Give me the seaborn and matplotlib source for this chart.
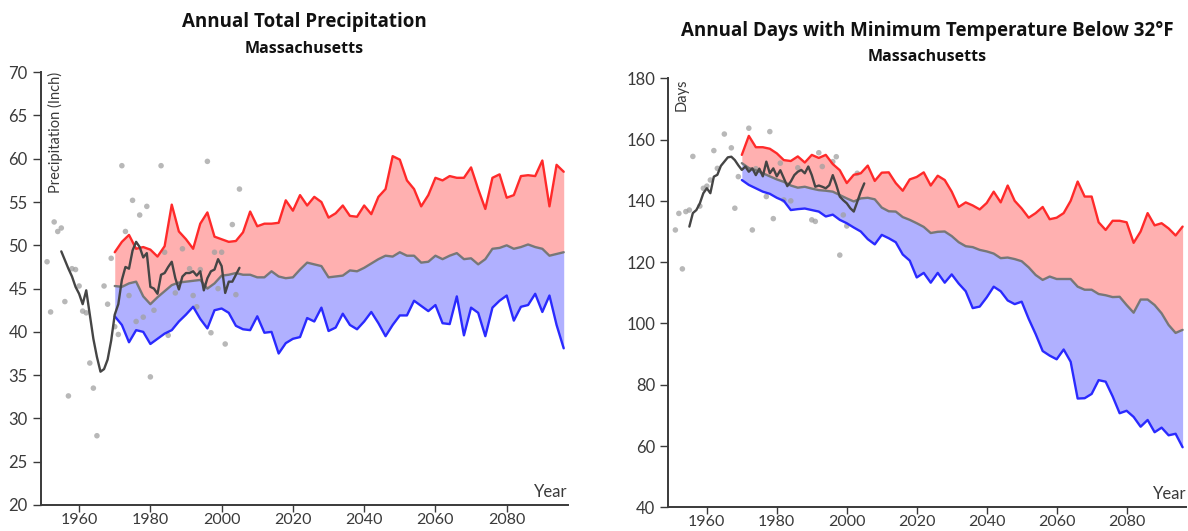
import numpy as np
import matplotlib
matplotlib.use("Agg")
import matplotlib.pyplot as plt
import seaborn as sns

# projection years (every 2nd year)
years = np.arange(1970, 2097, 2)

# ---- precipitation (inch) ----
precip_high = [49.2, 50.4, 51.2, 49.6, 49.8,
               49.5, 48.7, 49.9, 54.7, 51.6,
               50.7, 49.6, 52.5, 53.8, 51.0,
               50.7, 50.4, 50.5, 51.5, 53.9,
               52.2, 52.5, 52.5, 52.6, 55.2,
               54.0, 55.8, 54.6, 55.6, 55.0,
               53.2, 53.7, 54.6, 53.4, 53.3,
               54.6, 53.6, 55.6, 56.5, 60.3,
               59.9, 57.5, 56.5, 54.5, 55.8,
               57.8, 57.5, 58.0, 57.8, 57.8,
               59.0, 56.5, 54.2, 57.8, 58.2,
               55.5, 55.8, 58.0, 58.1, 58.0,
               59.8, 54.5, 59.3, 58.5]
precip_median = [45.3, 45.2, 45.6, 45.8, 44.1,
                 43.2, 44.0, 44.7, 45.4, 45.7,
                 45.8, 45.9, 46.0, 45.0, 45.6,
                 46.5, 46.6, 46.8, 46.6, 46.6,
                 46.3, 46.3, 47.0, 46.4, 46.2,
                 46.3, 47.2, 48.0, 47.8, 47.6,
                 46.3, 46.4, 46.5, 47.1, 47.0,
                 47.4, 47.9, 48.4, 48.8, 48.7,
                 49.2, 48.8, 48.8, 48.0, 48.1,
                 48.8, 48.4, 48.8, 49.1, 48.4,
                 48.5, 47.8, 48.4, 49.6, 49.7,
                 50.0, 49.6, 49.8, 50.1, 49.8,
                 49.6, 48.8, 49.0, 49.2]
precip_low = [41.8, 40.8, 38.8, 40.2, 40.0,
              38.6, 39.2, 39.8, 40.2, 41.2,
              42.0, 42.9, 41.5, 40.4, 42.5,
              42.7, 42.2, 40.7, 40.3, 40.2,
              41.8, 39.9, 40.0, 37.5, 38.7,
              39.2, 39.4, 41.6, 41.2, 42.8,
              40.1, 40.5, 42.1, 40.8, 40.3,
              41.2, 42.3, 41.0, 39.5, 40.8,
              41.9, 41.9, 43.6, 43.0, 42.4,
              43.1, 41.0, 40.9, 44.1, 39.6,
              42.8, 42.2, 39.5, 42.8, 43.6,
              44.2, 41.3, 42.9, 43.1, 44.4,
              42.3, 44.2, 40.8, 38.1]
precip_obs_years = [1951, 1952, 1953, 1954, 1955, 1956, 1957, 1958, 1959, 1960,
                    1961, 1962, 1963, 1964, 1965, 1967, 1968, 1969, 1970, 1971,
                    1972, 1973, 1974, 1975, 1976, 1977, 1978, 1979, 1980, 1981,
                    1983, 1984, 1985, 1987, 1989, 1991, 1992, 1993, 1994, 1996,
                    1997, 1998, 1999, 2000, 2001, 2003, 2004, 2005]
precip_obs = [48.1, 42.3, 52.7, 51.6, 52.0, 43.5, 32.6, 47.3, 47.2, 45.3,
              42.4, 42.2, 36.4, 33.5, 28.0, 45.3, 43.2, 48.5, 40.6, 39.7,
              59.2, 51.6, 44.2, 55.2, 41.2, 53.5, 41.7, 54.5, 34.8, 42.5,
              59.2, 49.2, 39.6, 44.5, 49.6, 47.3, 44.2, 42.9, 47.2, 59.7,
              39.9, 49.2, 45.0, 49.2, 38.6, 52.4, 44.3, 56.5]
avg_years = np.arange(1955, 2006)
precip_avg = [49.3, 48.3, 47.3, 46.4, 45.2, 44.4, 43.2, 44.8, 42.0, 39.2,
              37.1, 35.4, 35.7, 36.8, 39.0, 42.0, 43.2, 46.0, 47.5, 47.3,
              49.4, 50.4, 49.8, 48.6, 49.1, 45.2, 45.0, 44.4, 46.6, 46.8,
              47.5, 48.1, 46.2, 44.9, 46.4, 46.8, 46.8, 47.0, 46.5, 47.0,
              44.8, 46.2, 47.0, 47.2, 48.4, 47.6, 44.5, 45.8, 45.8, 46.6,
              47.4]

# ---- days with minimum temperature below 32F ----
frost_high = [155.0, 161.2, 157.5, 157.5, 157.0,
              155.5, 153.3, 153.0, 154.5, 152.5,
              155.0, 154.0, 155.0, 152.0, 150.0,
              145.8, 148.5, 149.0, 151.5, 146.5,
              149.2, 149.3, 145.8, 143.3, 147.0,
              147.8, 149.3, 145.0, 148.2, 146.8,
              143.0, 138.0, 139.5, 138.5, 137.2,
              139.3, 143.0, 139.5, 145.0, 140.0,
              137.5, 134.5, 136.0, 138.0, 134.0,
              134.5, 136.0, 140.0, 146.3, 141.4,
              141.4, 133.0, 130.5, 133.5, 133.5,
              133.0, 126.3, 130.0, 136.0, 132.0,
              132.7, 131.0, 128.7, 131.6]
frost_median = [152.3, 150.7, 150.0, 149.0, 148.0,
                147.0, 146.2, 145.0, 144.3, 144.6,
                144.0, 143.5, 143.3, 143.0, 141.9,
                140.8, 139.8, 140.8, 141.0, 140.5,
                137.8, 136.6, 136.5, 134.7, 133.8,
                132.7, 131.5, 129.5, 129.9, 130.0,
                128.5, 126.5, 125.2, 124.9, 124.0,
                123.5, 122.8, 121.3, 121.5, 121.0,
                120.3, 118.3, 115.8, 114.2, 115.3,
                114.5, 114.5, 114.5, 112.0, 111.0,
                111.0, 109.6, 109.2, 108.6, 108.7,
                106.0, 103.5, 107.8, 107.8, 106.0,
                103.3, 99.5, 96.9, 97.9]
frost_low = [146.8, 145.2, 144.1, 143.0, 142.3,
             141.0, 140.0, 137.0, 137.3, 137.5,
             137.0, 136.5, 134.9, 135.5, 133.8,
             132.7, 131.3, 130.0, 127.5, 125.8,
             128.9, 127.8, 126.5, 122.5, 120.5,
             115.0, 116.5, 113.3, 116.5, 113.3,
             116.0, 113.0, 110.5, 105.0, 105.5,
             108.5, 112.0, 110.5, 107.5, 106.3,
             107.1, 101.5, 96.5, 91.0, 89.5,
             88.3, 91.5, 87.5, 75.5, 75.6,
             77.0, 81.5, 81.0, 76.2, 70.7,
             71.5, 69.5, 66.3, 68.5, 64.5,
             66.0, 63.5, 64.0, 59.6]
frost_obs_years = [1951, 1952, 1953, 1954, 1955, 1956, 1958, 1959, 1960, 1961,
                   1962, 1963, 1965, 1967, 1968, 1969, 1972, 1973, 1974, 1977,
                   1978, 1979, 1981, 1982, 1984, 1986, 1990, 1991, 1992, 1993,
                   1996, 1997, 1998, 1999, 2000, 2003]
frost_obs = [130.5, 135.9, 117.8, 136.5, 137.0, 154.5, 138.3, 144.1, 144.8, 146.8,
             156.4, 150.6, 161.8, 157.3, 137.6, 147.9, 163.7, 130.5, 150.5, 141.4,
             162.6, 134.2, 152.3, 140.3, 140.0, 150.8, 133.8, 133.3, 155.7, 151.2,
             152.8, 154.4, 122.3, 135.4, 131.8, 149.0]
frost_avg = [131.6, 136.0, 137.0, 139.2, 142.5, 144.1, 142.5, 147.9, 148.5, 151.4,
             152.8, 154.2, 154.4, 153.3, 151.6, 150.1, 151.2, 149.5, 150.6, 148.4,
             150.5, 148.0, 152.8, 149.0, 150.6, 148.0, 150.0, 147.4, 144.8, 146.3,
             148.4, 149.5, 150.1, 149.0, 151.2, 148.4, 144.6, 145.0, 144.6, 144.1,
             145.1, 148.4, 145.2, 141.4, 140.2, 139.2, 137.6, 136.5, 139.7, 143.0,
             145.7]

RED = "#ff2a2a"
BLUE = "#2a2aff"
RED_FILL = "#ffb0b0"
BLUE_FILL = "#b0b0ff"
TXT = "#3a3a3a"

sns.set_style("ticks")
plt.rcParams["font.family"] = ["Lato", "DejaVu Sans"]


def draw_panel(ax, high, median, low, obs_years, obs, avg, ylim, yticks, ylabel, xlim):
    ax.fill_between(years, median, high, color=RED_FILL, lw=0)
    ax.fill_between(years, low, median, color=BLUE_FILL, lw=0)
    sns.lineplot(x=years, y=high, ax=ax, color=RED, lw=1.7)
    sns.lineplot(x=years, y=low, ax=ax, color=BLUE, lw=1.7)
    sns.lineplot(x=years, y=median, ax=ax, color="#777777", lw=1.7)
    sns.scatterplot(x=obs_years, y=obs, ax=ax, color="#a0a0a0", s=16,
                    alpha=0.75, edgecolor="none")
    sns.lineplot(x=avg_years, y=avg, ax=ax, color="#454545", lw=1.7)

    ax.set_xlim(*xlim)
    ax.set_ylim(*ylim)
    ax.set_yticks(yticks)
    ax.set_xticks([1960, 1980, 2000, 2020, 2040, 2060, 2080])
    ax.set_xlabel("")
    ax.set_ylabel("")
    sns.despine(ax=ax)
    for s in ("left", "bottom"):
        ax.spines[s].set_color(TXT)
        ax.spines[s].set_linewidth(1.4)
    ax.tick_params(direction="out", length=6, width=1, color=TXT,
                   labelcolor=TXT, labelsize=12)
    ax.tick_params(axis="x", pad=0.5, length=5, labelsize=11.5)
    ax.text(0.013, 1.0, ylabel, rotation=90, ha="left", va="top",
            transform=ax.transAxes, fontsize=10.5, color=TXT)
    ax.text(1.0, 0.012, "Year", ha="right", va="bottom",
            transform=ax.transAxes, fontsize=12, color=TXT)


fig = plt.figure(figsize=(11.88, 5.31), dpi=100)
ax1 = fig.add_axes([0.0345, 0.049, 0.4436, 0.815])
ax2 = fig.add_axes([0.5626, 0.0446, 0.4358, 0.808])

draw_panel(ax1, precip_high, precip_median, precip_low, precip_obs_years,
           precip_obs, precip_avg, (20, 70), range(20, 71, 5),
           "Precipitation (Inch)", (1949.3, 2097.2))
draw_panel(ax2, frost_high, frost_median, frost_low, frost_obs_years,
           frost_obs, frost_avg, (40, 180), range(40, 181, 20),
           "Days", (1949.0, 2097.0))

title_font = ["Open Sans", "DejaVu Sans"]
fig.text(0.2563, 0.958, "Annual Total Precipitation", ha="center", va="center",
         fontsize=13.5, fontweight="bold", color="#111111", family=title_font)
fig.text(0.2563, 0.907, "Massachusetts", ha="center", va="center",
         fontsize=11.5, fontweight="bold", color="#111111", family=title_font)
fig.text(0.7805, 0.9425, "Annual Days with Minimum Temperature Below 32°F",
         ha="center", va="center", fontsize=13.5, fontweight="bold", color="#111111",
         family=title_font)
fig.text(0.7805, 0.892, "Massachusetts", ha="center", va="center",
         fontsize=11.5, fontweight="bold", color="#111111", family=title_font)

fig.savefig("out.png", dpi=100)
